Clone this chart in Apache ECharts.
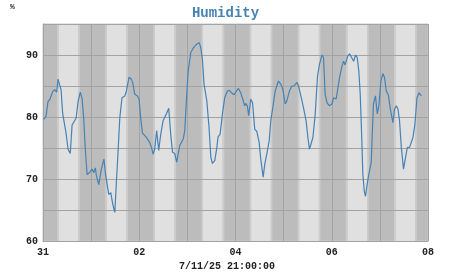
<!DOCTYPE html>
<html>
<head>
<meta charset="utf-8">
<script src="https://cdn.jsdelivr.net/npm/echarts@6/dist/echarts.min.js"></script>
<style>
html,body{margin:0;padding:0;background:#fff;}
#chart{width:451px;height:275px;}
</style>
</head>
<body>
<div id="chart"></div>
<script>
// Hours since Jul 31 00:00
var hours = [0.3,1.5,2.5,3.5,4.8,5.8,6.8,7.5,8.3,9.0,9.8,10.6,11.5,12.5,13.6,14.5,15.3,16.5,17.5,18.6,19.5,20.3,21.1,22.0,23.1,24.5,25.3,26.1,26.6,27.8,29.1,30.4,31.1,32.1,32.8,33.8,34.8,35.8,36.5,37.4,38.3,39.4,40.8,41.6,42.9,44.1,44.9,45.7,47.1,47.9,48.7,49.6,50.4,51.6,53.2,54.1,54.9,55.7,56.7,57.7,58.7,59.9,61.5,62.7,63.7,64.6,65.7,66.7,67.4,68.2,69.9,70.7,71.5,72.4,73.7,74.9,76.5,77.9,78.7,79.5,80.3,81.7,82.8,83.7,84.5,85.7,86.7,87.3,88.3,89.5,90.6,92.0,93.0,94.0,95.3,96.5,97.5,98.6,99.8,100.6,101.1,101.9,102.6,103.6,104.5,105.6,106.6,107.8,108.6,109.8,110.6,111.6,112.8,113.6,114.6,115.8,117.4,118.6,119.6,120.8,121.6,122.9,124.1,125.2,126.6,127.4,128.6,129.9,131.2,132.1,132.9,133.6,134.6,135.7,136.9,137.9,139.1,139.9,140.7,141.6,142.9,144.1,144.9,146.2,147.1,147.9,149.1,149.9,150.7,151.9,152.9,153.9,154.9,155.9,156.7,157.5,158.2,158.9,159.5,160.2,160.8,161.7,162.5,163.7,164.2,164.8,165.8,166.7,167.5,168.5,169.5,170.3,171.2,172.2,173.2,174.5,175.3,176.2,177.0,177.8,178.7,179.8,180.8,181.7,182.8,183.7,184.5,185.5,186.5,187.5,188.7];
var humidity = [79.6,80.1,82.5,82.9,84.1,84.4,84.0,86.1,86.0,84.4,80.6,80.6,77.4,74.8,74.1,78.7,79.0,79.8,82.5,84.0,83.0,79.8,74.8,70.7,71.0,71.6,71.0,71.8,70.6,69.1,71.6,73.2,71.0,68.9,67.5,67.8,65.9,64.6,68.9,74.2,79.9,83.1,83.4,84.2,86.4,86.1,85.3,83.7,83.4,82.9,79.9,77.4,77.5,76.7,75.9,75.1,74.0,74.8,77.8,74.6,77.2,79.4,80.5,81.4,77.2,74.3,74.1,72.7,74.0,75.4,76.4,77.8,82.6,87.4,90.4,91.1,91.7,92.0,91.2,89.3,85.3,82.6,78.3,73.5,72.5,73.0,75.1,76.8,77.2,80.5,83.1,84.2,84.3,83.9,83.6,84.2,84.6,83.9,82.7,81.8,82.2,81.8,80.2,82.9,82.3,78.0,77.7,75.9,73.2,70.3,72.4,74.0,76.2,79.4,81.5,84.2,85.8,85.3,84.5,82.1,82.6,84.2,85.0,85.0,85.6,85.0,83.4,81.5,79.4,76.7,74.8,75.1,76.7,80.2,86.6,88.5,90.0,89.6,83.7,82.3,81.8,82.1,83.1,82.9,82.9,86.4,88.2,89.0,88.4,89.8,90.2,89.6,89.0,90.0,89.6,87.4,83.7,77.2,70.8,68.1,67.2,69.2,70.8,72.7,77.2,82.1,83.4,80.5,81.8,85.8,87.0,86.4,84.2,83.6,81.3,79.1,81.3,81.8,81.3,79.4,75.1,71.6,73.5,75.1,75.1,75.2,76.7,78.9,83.1,83.9,83.4];
var xTickLabels = ['31','','02','','04','','06','','08'];
var yTickLabels = {60:'60',70:'70',80:'80',90:'90'};
var days = [0,1,2,3,4,5,6,7];
var dawnStart = 7.0, dayStart = 7.8, dayEnd = 17.6, duskEnd = 18.4;

var light = [], twilight = [];
days.forEach(function(d){
  var b = d*24;
  twilight.push([{xAxis:b+dawnStart},{xAxis:b+dayStart}]);
  light.push([{xAxis:b+dayStart},{xAxis:b+dayEnd}]);
  twilight.push([{xAxis:b+dayEnd},{xAxis:b+duskEnd}]);
});

var font = '"Liberation Mono", "DejaVu Sans Mono", monospace';
var chart = echarts.init(document.getElementById('chart'), null, {renderer:'canvas'});
chart.setOption({
  animation:false,
  backgroundColor:'#ffffff',
  title:[{
    text:'Humidity', left:'center', top:1,
    textStyle:{fontFamily:font, fontWeight:'bold', fontSize:14, color:'#4682b4'}
  }],
  graphic:[
    {type:'text', left:10, top:3, style:{text:'%', font:'bold 8px '+font, fill:'#333'}},
    {type:'text', x:227, y:266, style:{text:'7/11/25 21:00:00', font:'bold 10px '+font, fill:'#222', textAlign:'center', textVerticalAlign:'middle'}}
  ],
  grid:{left:43, top:24, width:385, height:217, show:true, backgroundColor:'#bcbcbc', borderColor:'#c8c8c8', borderWidth:1, z:0},
  xAxis:{
    type:'value', min:0, max:192, interval:24, z:2,
    axisLine:{show:true, lineStyle:{color:'#a3a3a3'}},
    axisTick:{show:false},
    splitLine:{show:true, lineStyle:{color:'#a3a3a3', width:1}},
    axisLabel:{margin:6, fontFamily:font, fontWeight:'bold', fontSize:10, color:'#222',
      formatter:function(v){ return xTickLabels[Math.round(v/24)] || ''; }}
  },
  yAxis:{
    type:'value', min:60, max:95, interval:5, z:2,
    axisLine:{show:true, lineStyle:{color:'#a3a3a3'}},
    axisTick:{show:false},
    splitLine:{show:true, lineStyle:{color:'#a3a3a3', width:1}},
    axisLabel:{margin:5, fontFamily:font, fontWeight:'bold', fontSize:10, color:'#222',
      formatter:function(v){ return yTickLabels[v] || ''; }}
  },
  series:[
    {type:'line', data:[], z:1, silent:true,
      markArea:{silent:true, itemStyle:{color:'#e0e0e0'}, data:light}},
    {type:'line', data:[], z:1, silent:true,
      markArea:{silent:true, itemStyle:{color:'#cdcdcd'}, data:twilight}},
    {type:'line', z:3, showSymbol:false, symbol:'none',
      data:hours.map(function(h,i){return [h, humidity[i]];}),
      lineStyle:{color:'#4682b4', width:1.2}}
  ]
});
</script>
</body>
</html>
